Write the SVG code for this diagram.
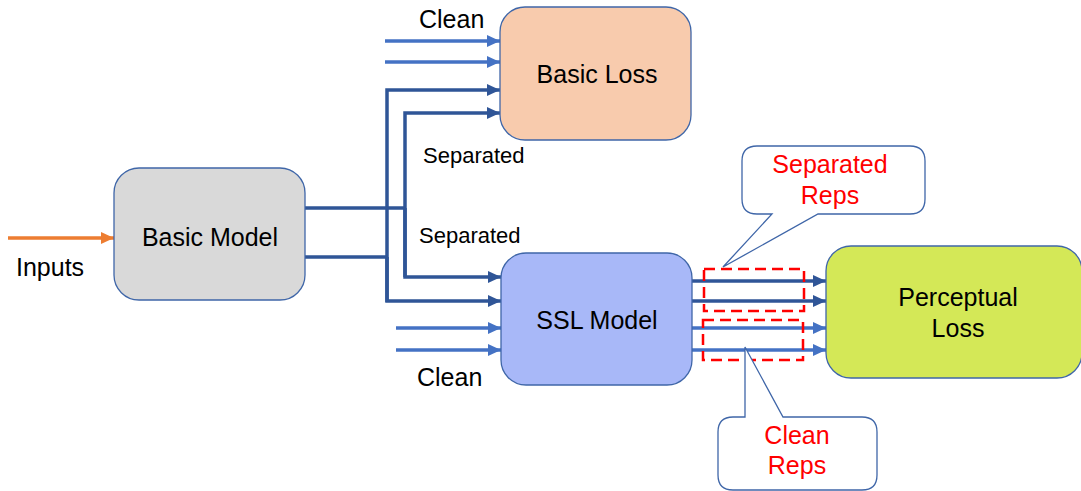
<svg xmlns="http://www.w3.org/2000/svg" width="1081" height="491" viewBox="0 0 1081 491">
<defs>
<marker id="ad" markerUnits="userSpaceOnUse" markerWidth="14" markerHeight="12" refX="13" refY="6" orient="auto"><path d="M0,0 L13,6 L0,12 z" fill="#2F5597"/></marker>
<marker id="al" markerUnits="userSpaceOnUse" markerWidth="14" markerHeight="12" refX="13" refY="6" orient="auto"><path d="M0,0 L13,6 L0,12 z" fill="#4472C4"/></marker>
<marker id="ao" markerUnits="userSpaceOnUse" markerWidth="14" markerHeight="12" refX="13" refY="6" orient="auto"><path d="M0,0 L13,6 L0,12 z" fill="#ED7D31"/></marker>
</defs>
<style>
text{font-family:"Liberation Sans",Arial,sans-serif;fill:#000}
.big{font-size:25px}
.sm{font-size:22px}
.red{fill:#FF0000;font-size:25px}
.box{stroke:#3F66A8;stroke-width:1.3}
.dk{fill:none;stroke:#2F5597;stroke-width:3.5}
.lt{fill:none;stroke:#4472C4;stroke-width:3.5}
.dash{fill:none;stroke:#FF0000;stroke-width:2.5;stroke-dasharray:11,6}
.call{fill:#fff;stroke:#3F66A8;stroke-width:1.3}
</style>
<g id="connectors">
<line x1="8" y1="238" x2="114" y2="238" stroke="#ED7D31" stroke-width="3.5" marker-end="url(#ao)"/>
<line class="lt" x1="385" y1="41" x2="500" y2="41" marker-end="url(#al)"/>
<line class="lt" x1="385" y1="62" x2="500" y2="62" marker-end="url(#al)"/>
<path class="dk" d="M305,257 L387,257 M387,302 L387,90 L500,90" marker-end="url(#ad)"/>
<path class="dk" d="M305,208 L405,208 M405,277 L405,113 L500,113" marker-end="url(#ad)"/>
<path class="dk" d="M405,208 L405,277 L501,277" marker-end="url(#ad)"/>
<path class="dk" d="M387,257 L387,301 L501,301" marker-end="url(#ad)"/>
<line class="lt" x1="396" y1="328" x2="501" y2="328" marker-end="url(#al)"/>
<line class="lt" x1="396" y1="350" x2="501" y2="350" marker-end="url(#al)"/>
<line class="dk" x1="692" y1="281" x2="826" y2="281" marker-end="url(#ad)"/>
<line class="dk" x1="692" y1="301" x2="826" y2="301" marker-end="url(#ad)"/>
<line class="lt" x1="692" y1="328" x2="826" y2="328" marker-end="url(#al)"/>
<line class="lt" x1="692" y1="350" x2="826" y2="350" marker-end="url(#al)"/>
</g>
<g id="labels">
<text class="big" x="16" y="276">Inputs</text>
<text class="big" x="419" y="28">Clean</text>
<text class="sm" x="423" y="163">Separated</text>
<text class="sm" x="419" y="243">Separated</text>
<text class="big" x="417" y="386">Clean</text>
</g>
<g id="basic-model">
<rect class="box" x="114" y="168" width="191" height="132" rx="25" fill="#D9D9D9"/>
<text class="big" x="210" y="246" text-anchor="middle">Basic Model</text>
</g>
<g id="basic-loss">
<rect class="box" x="500" y="7" width="191" height="133" rx="25" fill="#F8CBAD"/>
<text class="big" x="597" y="83" text-anchor="middle">Basic Loss</text>
</g>
<g id="ssl-model">
<rect class="box" x="501" y="253" width="191" height="132" rx="25" fill="#A8B8F8"/>
<text class="big" x="597" y="329" text-anchor="middle">SSL Model</text>
</g>
<g id="perceptual-loss">
<rect class="box" x="826" y="246" width="256" height="132" rx="25" fill="#D4E857"/>
<text class="big" x="958" y="306" text-anchor="middle">Perceptual</text>
<text class="big" x="958" y="337" text-anchor="middle">Loss</text>
</g>
<g id="rep-boxes">
<rect class="dash" x="704" y="269" width="100" height="42"/>
<rect class="dash" x="703" y="320" width="100" height="40"/>
</g>
<g id="separated-reps-callout">
<path class="call" d="M757,146 L910,146 Q925,146 925,161 L925,199 Q925,214 910,214 L818,214 L723,267 L772,214 L757,214 Q742,214 742,199 L742,161 Q742,146 757,146 Z"/>
<text class="red" x="830" y="173" text-anchor="middle">Separated</text>
<text class="red" x="830" y="204" text-anchor="middle">Reps</text>
</g>
<g id="clean-reps-callout">
<path class="call" d="M733,417 L745,417 L745,347 L783,417 L862,417 Q877,417 877,432 L877,475 Q877,490 862,490 L733,490 Q718,490 718,475 L718,432 Q718,417 733,417 Z"/>
<text class="red" x="797" y="444" text-anchor="middle">Clean</text>
<text class="red" x="797" y="474" text-anchor="middle">Reps</text>
</g>
</svg>
